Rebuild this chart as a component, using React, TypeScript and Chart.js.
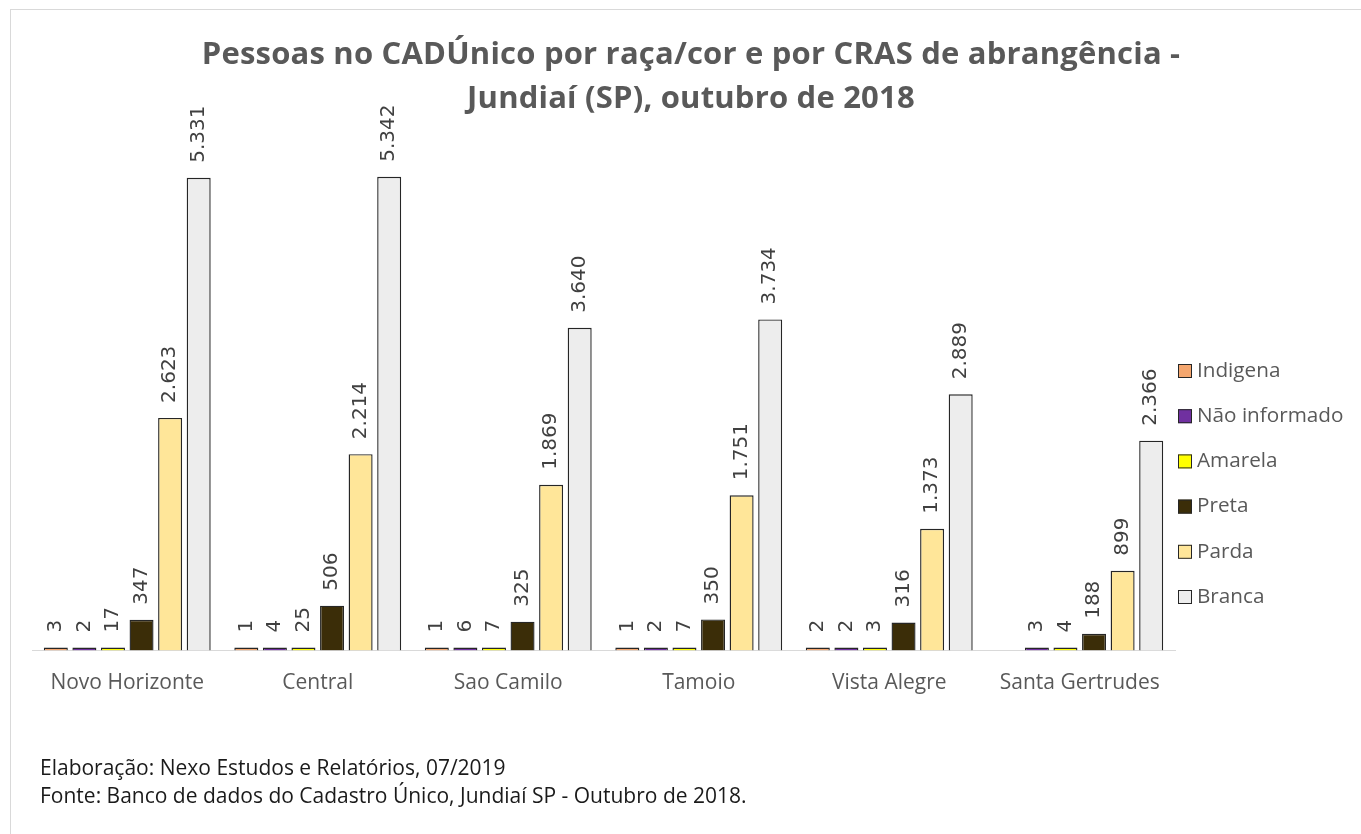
import React, { useEffect, useRef } from "react";
import { Chart, registerables } from "chart.js";

Chart.register(...registerables);

const categories = ["Novo Horizonte", "Central", "Sao Camilo", "Tamoio", "Vista Alegre", "Santa Gertrudes"];
const seriesNames = ["Indigena", "Não informado", "Amarela", "Preta", "Parda", "Branca"];
const indigena = [3, 1, 1, 1, 2, null];
const naoInformado = [2, 4, 6, 2, 2, 3];
const amarela = [17, 25, 7, 7, 3, 4];
const preta = [347, 506, 325, 350, 316, 188];
const parda = [2623, 2214, 1869, 1751, 1373, 899];
const branca = [5331, 5342, 3640, 3734, 2889, 2366];
const seriesColors = ["#F4A66E", "#7030A0", "#FFFF00", "#3B2D08", "#FFE699", "#EDEDED"];

const titleLines = ["Pessoas no CADÚnico por raça/cor e por CRAS de abrangência -", "Jundiaí (SP), outubro de 2018"];
const footerLines = [
  "Elaboração: Nexo Estudos e Relatórios, 07/2019",
  "Fonte: Banco de dados do Cadastro Único, Jundiaí SP - Outubro de 2018.",
];

const fmt = (v: number) => String(v).replace(/\B(?=(\d{3})+(?!\d))/g, ".");

const customPlugin = {
  id: "customDraw",
  afterDatasetsDraw(chart: any) {
    const ctx = chart.ctx;
    ctx.save();
    ctx.font = "20px 'DejaVu Sans'";
    ctx.fillStyle = "#404040";
    ctx.textAlign = "left";
    ctx.textBaseline = "middle";
    chart.data.datasets.forEach((ds: any, i: number) => {
      const meta = chart.getDatasetMeta(i);
      meta.data.forEach((bar: any, j: number) => {
        const v = ds.data[j];
        if (v == null) return;
        ctx.save();
        ctx.translate(bar.x, bar.y - 15);
        ctx.rotate(-Math.PI / 2);
        ctx.fillText(fmt(v), 0, 0);
        ctx.restore();
      });
    });
    ctx.restore();
  },
  afterDraw(chart: any) {
    const ctx = chart.ctx;
    const area = chart.chartArea;
    ctx.save();
    // title
    ctx.fillStyle = "#595959";
    ctx.font = "bold 31px 'Open Sans'";
    try {
      ctx.letterSpacing = "0.2px";
    } catch (e) {}
    ctx.textAlign = "center";
    ctx.textBaseline = "alphabetic";
    ctx.fillText(titleLines[0], 691, 64);
    ctx.fillText(titleLines[1], 691, 108);
    try {
      ctx.letterSpacing = "0px";
    } catch (e) {}
    // legend
    ctx.font = "20.7px 'Open Sans'";
    ctx.textAlign = "left";
    ctx.textBaseline = "middle";
    chart.data.datasets.forEach((ds: any, i: number) => {
      const cy = area.bottom - 279.5 + i * 45.2;
      const bx = area.right + 3;
      ctx.fillStyle = ds.backgroundColor;
      ctx.fillRect(bx, cy - 7, 14, 14);
      ctx.strokeStyle = "#262626";
      ctx.lineWidth = 1;
      ctx.strokeRect(bx + 0.5, cy - 6.5, 13, 13);
      ctx.fillStyle = "#595959";
      ctx.fillText(ds.label, bx + 19, cy);
    });
    // footer
    ctx.fillStyle = "#1a1a1a";
    ctx.font = "21px 'Open Sans'";
    ctx.textBaseline = "alphabetic";
    ctx.fillText(footerLines[0], 40, 775);
    ctx.fillText(footerLines[1], 40, 803);
    ctx.restore();
  },
};

export default function App() {
  const ref = useRef<HTMLCanvasElement | null>(null);
  useEffect(() => {
    if (!ref.current) return;
    document.body.style.overflow = "hidden";
    const seriesData = [indigena, naoInformado, amarela, preta, parda, branca];
    const chart = new Chart(ref.current, {
      type: "bar",
      data: {
        labels: categories,
        datasets: seriesNames.map((name, i) => ({
          label: name,
          data: seriesData[i] as any,
          backgroundColor: seriesColors[i],
          borderColor: "#262626",
          borderWidth: 1.4,
          borderSkipped: "bottom",
          minBarLength: i < 3 ? 3 : 0,
          categoryPercentage: 0.9,
          barPercentage: 0.84,
        })),
      },
      options: {
        responsive: false,
        devicePixelRatio: 1,
        animation: false,
        layout: { padding: { left: 32, right: 186, top: 118.5, bottom: 123.5 } },
        plugins: {
          legend: { display: false },
          title: { display: false },
          tooltip: { enabled: false },
        },
        scales: {
          x: {
            grid: { display: false, drawTicks: false },
            border: { display: true, color: "#d9d9d9", width: 1 },
            ticks: { color: "#595959", font: { family: "'Open Sans'", size: 21 }, padding: 20, maxRotation: 0 },
            afterFit: (s: any) => {
              s.height = 60;
            },
          },
          y: { display: false, min: 0, max: 6000 },
        },
      },
      plugins: [customPlugin],
    });
    return () => chart.destroy();
  }, []);
  return (
    <div style={{ position: "absolute", left: 0, top: 0, width: 1361, height: 834, background: "#fff", overflow: "hidden" }}>
      <div
        style={{
          position: "absolute",
          left: 10,
          top: 9,
          width: 1360,
          height: 830,
          borderTop: "1px solid #d9d9d9",
          borderLeft: "1px solid #d9d9d9",
        }}
      />
      <canvas ref={ref} width={1361} height={834} style={{ position: "absolute", left: 0, top: 0 }} />
    </div>
  );
}
